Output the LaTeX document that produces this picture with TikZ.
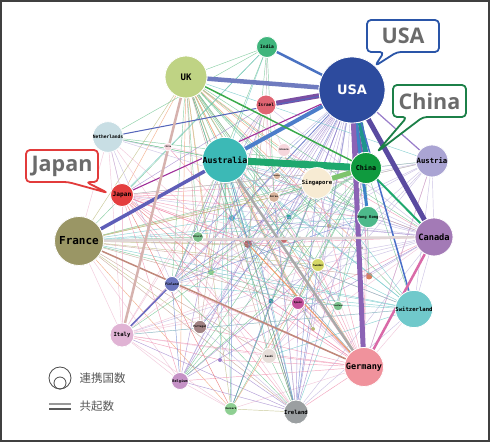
\documentclass[tikz,border=0pt]{standalone}
\usepackage{fontspec}
\newfontfamily\monob{DejaVu Sans Mono}
\newfontfamily\dvs{DejaVu Sans}
\newfontfamily\osans{Open Sans}
\newfontfamily\cjk{Noto Sans CJK JP}
\newcommand\fz[1]{\fontsize{#1}{#1}\selectfont}
\definecolor{cUSA}{HTML}{2D4B9E}\definecolor{cUK}{HTML}{BFD384}
\definecolor{cInd}{HTML}{3FB57C}\definecolor{cIsr}{HTML}{E06472}
\definecolor{cNed}{HTML}{C8DEE4}\definecolor{cAus}{HTML}{3CB9B6}
\definecolor{cGrc}{HTML}{F6D6DC}\definecolor{cChn}{HTML}{0F9A3E}
\definecolor{cAut}{HTML}{AAA4D3}\definecolor{cSgp}{HTML}{F7EBD3}
\definecolor{cJpn}{HTML}{E43E3E}\definecolor{cFra}{HTML}{9A9665}
\definecolor{cCan}{HTML}{A37AB6}\definecolor{cHkg}{HTML}{4DB98B}
\definecolor{cKor}{HTML}{D9B49C}\definecolor{cPol}{HTML}{6B76BE}
\definecolor{cIta}{HTML}{E0B3D4}\definecolor{cPor}{HTML}{A08282}
\definecolor{cBel}{HTML}{C592C6}\definecolor{cDen}{HTML}{8ECF92}
\definecolor{cIrl}{HTML}{9B9FA1}\definecolor{cGer}{HTML}{F0929C}
\definecolor{cSwi}{HTML}{70C9CB}\definecolor{cSpa}{HTML}{C2509C}
\definecolor{cSau}{HTML}{E6DDD8}\definecolor{cSwe}{HTML}{D5D766}
\definecolor{cBra}{HTML}{7CC18C}
\definecolor{ea}{HTML}{F08AAA}\definecolor{eb}{HTML}{66C08A}
\definecolor{ec}{HTML}{9B7FCB}\definecolor{ed}{HTML}{5F7CCB}
\definecolor{ee}{HTML}{F09A6A}\definecolor{ef}{HTML}{66C4C6}
\definecolor{eg}{HTML}{C09A8A}\definecolor{eh}{HTML}{BDB0DD}
\definecolor{ei}{HTML}{B8B878}\definecolor{ej}{HTML}{EEB8D0}
\definecolor{ek}{HTML}{E86060}\definecolor{el}{HTML}{AAAAAA}
\definecolor{calB}{HTML}{2A55A8}\definecolor{calG}{HTML}{1C8048}
\definecolor{calR}{HTML}{E23B3B}\definecolor{caltext}{HTML}{6B6B6B}
\begin{document}
\begin{tikzpicture}[x=1pt,y=-1pt,
  cn/.style={circle, draw=white, line width=0.8pt, inner sep=0pt, text=black},
  tn/.style={circle, inner sep=0pt},
  te/.style={line width=0.45pt, opacity=0.75},
  tk/.style={line width=#1},
  callout/.style={line width=1.8pt, fill=white, rounded corners=4pt, line join=round},
  caltxt/.style={font=\osans\bfseries\fz{21.5}, text=caltext},
  legtxt/.style={font=\cjk\fz{11.5}, text=black!65, anchor=west}]
\fill[white] (0,0) rectangle (491,443);
\useasboundingbox (0,0) rectangle (491,443);
% ---------- node anchors ----------
\node[cn, minimum size=66, fill=cUSA] (usa) at (352,90) {};
\node[cn, minimum size=42, fill=cUK] (uk) at (186,77) {};
\node[cn, minimum size=21, fill=cInd] (ind) at (267,47) {};
\node[cn, minimum size=20, fill=cIsr] (isr) at (266,105) {};
\node[cn, minimum size=19, fill=cNed] (ned) at (108,137) {};
\node[cn, minimum size=8, fill=cGrc] (chl) at (168,147) {};
\node[cn, minimum size=40, fill=cAus] (aus) at (225,160) {};
\node[cn, minimum size=13, fill=cGrc] (grc) at (284,150) {};
\node[cn, minimum size=31, fill=cChn] (chn) at (366,168) {};
\node[cn, minimum size=32, fill=cAut] (aut) at (432,161) {};
\node[cn, minimum size=27, fill=cSgp] (sgp) at (317,183) {};
\node[cn, minimum size=23, fill=cJpn] (jpn) at (122,195) {};
\node[cn, minimum size=6, fill=cKor] (mex) at (277,176) {};
\node[cn, minimum size=11, fill=cKor] (kor) at (274,197) {};
\node[cn, minimum size=49, fill=cFra] (fra) at (79,241) {};
\node[cn, minimum size=38, fill=cCan] (can) at (434,237) {};
\node[cn, minimum size=17, fill=cHkg] (hkg) at (368,217) {};
\node[cn, minimum size=11, fill=cBra] (bra) at (198,237) {};
\node[cn, minimum size=15, fill=cPol] (pol) at (172,284) {};
\node[cn, minimum size=24, fill=cIta] (ita) at (122,335) {};
\node[cn, minimum size=13, fill=cPor] (por) at (200,327) {};
\node[cn, minimum size=17, fill=cBel] (bel) at (180,381) {};
\node[cn, minimum size=13, fill=cDen] (den) at (231,409) {};
\node[cn, minimum size=23, fill=cIrl] (irl) at (296,412) {};
\node[cn, minimum size=39, fill=cGer] (ger) at (364,367) {};
\node[cn, minimum size=23, fill=cSwi] (swi) at (414,309) {};
\node[cn, minimum size=13, fill=cSpa] (spa) at (298,303) {};
\node[cn, minimum size=15, fill=cSau] (sau) at (269,356) {};
\node[cn, minimum size=13, fill=cSwe] (swe) at (318,265) {};
\node[cn, minimum size=6, fill=cBra] (tha) at (338,306) {};
\node[tn, minimum size=6, fill={rgb,255:red,64;green,184;blue,208}] (t1) at (232,218) {};
\node[tn, minimum size=3, fill=ej] (t2) at (261,222) {};
\node[tn, minimum size=5, fill={rgb,255:red,48;green,168;blue,160}] (t3) at (289,217) {};
\node[tn, minimum size=3, fill=el] (t4) at (226,240) {};
\node[tn, minimum size=3, fill=eg] (t5) at (237,240) {};
\node[tn, minimum size=8, fill={rgb,255:red,168;green,106;blue,106}] (t6) at (248,244) {};
\node[tn, minimum size=6, fill={rgb,255:red,192;green,112;blue,112}] (t7) at (284,240) {};
\node[tn, minimum size=3, fill=el] (t8) at (300,238) {};
\node[tn, minimum size=4, fill=ei] (t9) at (329,226) {};
\node[tn, minimum size=3, fill=el] (t10) at (261,265) {};
\node[tn, minimum size=6, fill=cDen] (t11) at (211,272) {};
\node[tn, minimum size=5, fill={rgb,255:red,40;green,152;blue,168}] (t12) at (271,301) {};
\node[tn, minimum size=4, fill=ei] (t13) at (313,329) {};
\node[tn, minimum size=4, fill=ec] (t14) at (220,360) {};
\node[tn, minimum size=7, fill={rgb,255:red,216;green,128;blue,96}] (t15) at (369,276) {};
\node[tn, minimum size=3, fill=el] (t16) at (362,248) {};
% ---------- thin edges ----------
\foreach \b/\c in {irl/ec,swi/ed,spa/ec,sau/eh,swe/eh,pol/ed,ita/ec,por/eh,bel/ec,den/ed,fra/eh,ned/eh,kor/ec,mex/eh,grc/eh,t1/ed,t3/ec,t6/ec,t7/eh,t9/ed,t12/ec,t13/eh,t15/ec,tha/eh,bra/ed,t11/ec,t14/eh,aut/ec,sgp/ec,t10/ed,t4/eh}
  \draw[te,draw=\c] (usa) -- (\b);
\foreach \b/\c in {aus/eb,sgp/ee,kor/eg,mex/eb,grc/ee,hkg/eb,can/eb,ger/ee,irl/eg,swe/eb,spa/ee,por/eg,pol/eb,bra/eb,t1/ef,t3/eb,t6/ee,t7/eb,t9/eb,t11/ee,sau/eg,swi/eb,aut/ef,jpn/ee,fra/ei,bel/ee,den/ei,t12/eb,t13/ee,tha/eb,t16/ee}
  \draw[te,draw=\c] (uk) -- (\b);
\foreach \b/\c in {ned/eb,chl/ej,kor/ef,sgp/ef,hkg/ef,can/ef,irl/eb,swi/ef,spa/ea,swe/ei,pol/ed,ita/ej,bel/ec,den/eb,por/eg,sau/ef,t1/ef,t4/eb,t6/ef,t10/ef,t12/ef,t13/eb,t14/ef,bra/eb,t11/eb,tha/ef}
  \draw[te,draw=\c] (aus) -- (\b);
\foreach \b/\c in {aut/ei,chn/eb,sgp/ei,hkg/ef,swe/ei,spa/eg,sau/eg,por/ei,bel/ej,den/ee,irl/eg,t6/eg,t7/ea,bra/eb,t1/ef,swi/ef,kor/ei,ita/ej,t16/ei,t9/ef,t15/eg,tha/eb,t4/ee,t5/ea}
  \draw[te,draw=\c] (fra) -- (\b);
\foreach \b/\c in {ita/ea,bel/ea,pol/ea,por/ea,jpn/ea,ned/ej,chl/ea,sgp/ea,kor/ea,aut/ea,chn/ea,hkg/ej,swe/ea,spa/eh,sau/ea,irl/ea,den/ej,t11/ea,t12/ea,t14/ea,swi/ej,t1/ef,t2/ea,t10/ea}
  \draw[te,draw=\c] (ger) -- (\b);
\foreach \b/\c in {jpn/eh,sgp/eh,kor/eh,hkg/eh,ita/eh,pol/eh,swe/eh,t9/eh,t15/eh,aut/eh,swi/eh,ned/eh,aus/ea,irl/eh,bel/ec,spa/ea,sau/ej,t6/ea,t1/ec,grc/ea,isr/eh,t7/eh,t4/ea}
  \draw[te,draw=\c] (can) -- (\b);
\foreach \b/\c in {ned/ej,chn/ec,pol/eb,ita/ec,spa/ec,sau/eb,swe/ed,t12/ef,jpn/ea,bel/ec,den/ei,por/eh,t14/ec,kor/ed,sgp/ed,hkg/ef,swi/eh,isr/ej,t6/ei,uk/eb,aus/ed,t10/ed}
  \draw[te,draw=\c] (irl) -- (\b);
\foreach \b/\c in {chn/ei,sgp/ea,hkg/ea,spa/ea,swe/ea,ita/ej,swi/ea,den/ek,bel/ea,kor/ea,t6/ea,sau/ea,t7/ej,ned/ej,t1/ea,t11/ek}
  \draw[te,draw=\c] (jpn) -- (\b);
\foreach \b/\c in {kor/eb,aut/eb,swi/eb,ita/eb,pol/eb,spa/eb,ned/eb,den/eb,bel/eb,sau/eb,t15/eb,tha/eb,t12/eb,t3/eb}
  \draw[te,draw=\c] (chn) -- (\b);
\foreach \b/\c in {aus/ec,t6/eg,pol/ec,por/ej,sau/ej,jpn/ec,kor/ej,ita/ej,ger/ej,t11/ec}
  \draw[te,draw=\c] (isr) -- (\b);
\foreach \b/\c in {uk/eb,fra/eb,jpn/ef,aus/ef,kor/eb,isr/el,t6/eb,pol/eb,ned/eb}
  \draw[te,draw=\c] (ind) -- (\b);
\foreach \b/\c in {jpn/eh,aus/eb,sgp/eh,fra/ej,ita/ej,pol/eh}
  \draw[te,draw=\c] (ned) -- (\b);
\foreach \b/\c in {sgp/ej,bel/ej,den/ej,swe/ej,sau/ej,spa/ej,swi/ej,t1/ej,t12/ej,t14/ea}
  \draw[te,draw=\c] (ita) -- (\b);
\foreach \b/\c in {sgp/eh,kor/eh,hkg/eh,ger/eh,swi/eh,pol/eh,spa/eh,jpn/eh,t7/eh,sau/eh}
  \draw[te,draw=\c] (aut) -- (\b);
\foreach \b/\c in {pol/ef,ita/ef,spa/ef,sau/ef,t11/ef,t1/ef,sgp/ef,kor/ef,t6/ef}
  \draw[te,draw=\c] (swi) -- (\b);
\foreach \b/\c in {pol/ed,sgp/eb,swe/ec,den/ej,t12/eb,kor/ec,t6/eh}
  \draw[te,draw=\c] (bel) -- (\b);
\foreach \b/\c in {t12/ed,t1/ed,sgp/eb,swe/ee}
  \draw[te,draw=\c] (den) -- (\b);
\foreach \b/\c in {hkg/eb,kor/eb,t9/eh,por/ed,pol/ed}
  \draw[te,draw=\c] (sgp) -- (\b);
\foreach \b/\c in {t9/eh,swe/eh,pol/ed,sau/ea}
  \draw[te,draw=\c] (hkg) -- (\b);
% ---------- thick edges ----------
\draw[tk=4.5pt, draw={rgb,255:red,111;green,123;blue,191}] (uk) -- (usa);
\draw[tk=5pt, draw={rgb,255:red,123;green,79;blue,163}] (isr) -- (usa);
\draw[tk=2.5pt, draw={rgb,255:red,74;green,114;blue,194}] (ind) -- (usa);
\draw[tk=4pt, draw={rgb,255:red,76;green,126;blue,202}] (aus) -- (usa);
\draw[tk=1pt, draw={rgb,255:red,85;green,102;blue,187}] (ned) -- (usa);
\draw[tk=1.5pt, draw={rgb,255:red,58;green,170;blue,74}] (uk) -- (chn);
\draw[tk=1.1pt, draw={rgb,255:red,160;green,48;blue,154}] (jpn) -- (usa);
\draw[tk=7pt, draw={rgb,255:red,30;green,168;blue,110}] (aus) -- (chn);
\draw[tk=5pt, draw={rgb,255:red,126;green,196;blue,108}] (sgp) -- (chn);
\draw[tk=6pt, draw={rgb,255:red,122;green,92;blue,176}, transform canvas={xshift=-3pt}] (usa) -- (chn);
\draw[tk=5pt, draw={rgb,255:red,30;green,149;blue,140}, transform canvas={xshift=2.5pt}] (usa) -- (chn);
\draw[tk=3pt, draw={rgb,255:red,60;green,130;blue,200}] (usa) -- (hkg);
\draw[tk=5pt, draw={rgb,255:red,139;green,99;blue,181}] (usa) -- (ger);
\draw[tk=5pt, draw={rgb,255:red,90;green,74;blue,160}] (usa) -- (can);
\draw[tk=1.2pt, draw=ec] (usa) -- (aut);
\draw[tk=1.5pt, draw={rgb,255:red,74;green,112;blue,200}] (usa) -- (swi);
\draw[tk=2pt, draw={rgb,255:red,30;green,168;blue,110}] (chn) -- (can);
\draw[tk=2.5pt, draw={rgb,255:red,217;green,106;blue,168}] (can) -- (ger);
\draw[tk=2.5pt, draw={rgb,255:red,169;green,169;blue,169}] (aus) -- (ger);
\draw[tk=1.5pt, draw={rgb,255:red,192;green,136;blue,122}] (fra) -- (ger);
\draw[tk=2.5pt, draw={rgb,255:red,224;green,214;blue,214}] (fra) -- (can);
\draw[tk=3.5pt, draw={rgb,255:red,94;green,94;blue,184}] (fra) -- (aus);
\draw[tk=2.5pt, draw={rgb,255:red,214;green,178;blue,174}] (uk) -- (ita);
\draw[tk=1.5pt, draw={rgb,255:red,106;green,106;blue,192}] (ita) -- (pol);
\draw[tk=1pt, draw=ee] (ger) -- (t6);
% ---------- nodes redrawn on top with labels ----------
\node[cn, minimum size=66, fill=cUSA, font=\dvs\bfseries\fz{13}, text=white] at (usa) {USA};
\node[cn, minimum size=42, fill=cUK, font=\monob\bfseries\fz{9}] at (uk) {UK};
\node[cn, minimum size=21, fill=cInd, font=\monob\bfseries\fz{4.6}] at (ind) {India};
\node[cn, minimum size=20, fill=cIsr, font=\monob\bfseries\fz{4.4}] at (isr) {Israel};
\node[cn, minimum size=19, fill=cNed, font=\monob\bfseries\fz{4.6}] at (ned) {Netherlands};
\node[cn, minimum size=8, fill=cGrc, font=\monob\bfseries\fz{2.2}] at (chl) {Chile};
\node[cn, minimum size=40, fill=cAus, font=\monob\bfseries\fz{8.3}] at (aus) {Australia};
\node[cn, minimum size=13, fill=cGrc, font=\monob\bfseries\fz{2.5}] at (grc) {Greece};
\node[cn, minimum size=31, fill=cChn, font=\monob\bfseries\fz{6.7}] at (chn) {China};
\node[cn, minimum size=32, fill=cAut, font=\monob\bfseries\fz{7.3}] at (aut) {Austria};
\node[cn, minimum size=27, fill=cSgp, font=\monob\bfseries\fz{5.6}] at (sgp) {Singapore};
\node[cn, minimum size=23, fill=cJpn, font=\monob\bfseries\fz{6.2}] at (jpn) {Japan};
\node[cn, minimum size=6, fill=cKor, font=\monob\bfseries\fz{2}] at (mex) {Mexico};
\node[cn, minimum size=11, fill=cKor, font=\monob\bfseries\fz{2.5}] at (kor) {Korea};
\node[cn, minimum size=49, fill=cFra, font=\monob\bfseries\fz{11}] at (fra) {France};
\node[cn, minimum size=38, fill=cCan, font=\monob\bfseries\fz{8.7}] at (can) {Canada};
\node[cn, minimum size=17, fill=cHkg, font=\monob\bfseries\fz{3.9}] at (hkg) {Hong Kong};
\node[cn, minimum size=11, fill=cBra, font=\monob\bfseries\fz{2.5}] at (bra) {Brazil};
\node[cn, minimum size=15, fill=cPol, font=\monob\bfseries\fz{3.2}] at (pol) {Finland};
\node[cn, minimum size=24, fill=cIta, font=\monob\bfseries\fz{5.6}] at (ita) {Italy};
\node[cn, minimum size=13, fill=cPor, font=\monob\bfseries\fz{2.7}] at (por) {Portugal};
\node[cn, minimum size=17, fill=cBel, font=\monob\bfseries\fz{3.6}] at (bel) {Belgium};
\node[cn, minimum size=13, fill=cDen, font=\monob\bfseries\fz{2.5}] at (den) {Denmark};
\node[cn, minimum size=23, fill=cIrl, font=\monob\bfseries\fz{5.6}] at (irl) {Ireland};
\node[cn, minimum size=39, fill=cGer, font=\monob\bfseries\fz{8.6}] at (ger) {Germany};
\node[cn, minimum size=23, fill=cSwi, font=\monob\bfseries\fz{5.6}] at (swi) {Switzerland};
\node[cn, minimum size=13, fill=cSpa, font=\monob\bfseries\fz{2.7}] at (spa) {Spain};
\node[cn, minimum size=15, fill=cSau, font=\monob\bfseries\fz{2.7}] at (sau) {Saudi};
\node[cn, minimum size=13, fill=cSwe, font=\monob\bfseries\fz{2.7}] at (swe) {Sweden};
\node[cn, minimum size=6, fill=cBra, font=\monob\bfseries\fz{2}] at (tha) {Thailand};
% ---------- callouts ----------
\coordinate (tipusa) at (375,66);
\coordinate (tipchn) at (377,152);
\coordinate (tipjpn) at (108,193);
\draw[callout, draw=calB] (367,20) -- (439,20) -- (439,52) -- (397,52) -- (tipusa) -- (384,52) -- (367,52) -- cycle;
\node[caltxt] (lusa) at (403,36) {USA};
\draw[callout, draw=calG] (393,85) -- (466,85) -- (466,117) -- (423,117) -- (tipchn) -- (407,117) -- (393,117) -- cycle;
\node[caltxt] (lchn) at (429.5,101) {China};
\draw[callout, draw=calR] (26,150) -- (98,150) -- (98,182) -- (86,182) -- (tipjpn) -- (68,182) -- (26,182) -- cycle;
\node[caltxt] (ljpn) at (62,166) {Japan};
% ---------- legend ----------
\node[circle, draw=black!70, line width=0.8pt, minimum size=22, inner sep=0] (lgo) at (60,378) {};
\node[circle, draw=black!70, line width=0.8pt, minimum size=12, inner sep=0] (lgi) at (60,383) {};
\node[legtxt] (lgt1) at (76,378) {連携国数};
\coordinate (la1) at (49,404); \coordinate (lb1) at (71,404);
\coordinate (la2) at (49,409); \coordinate (lb2) at (71,409);
\draw[black!40, line width=1.5pt] (la1) -- (lb1);
\draw[black!65, line width=2.5pt] (la2) -- (lb2);
\node[legtxt] (lgt2) at (76,406) {共起数};
% ---------- frame ----------
\draw[black!75, line width=1.5pt] (1,1) rectangle (489,441);
\end{tikzpicture}
\end{document}
